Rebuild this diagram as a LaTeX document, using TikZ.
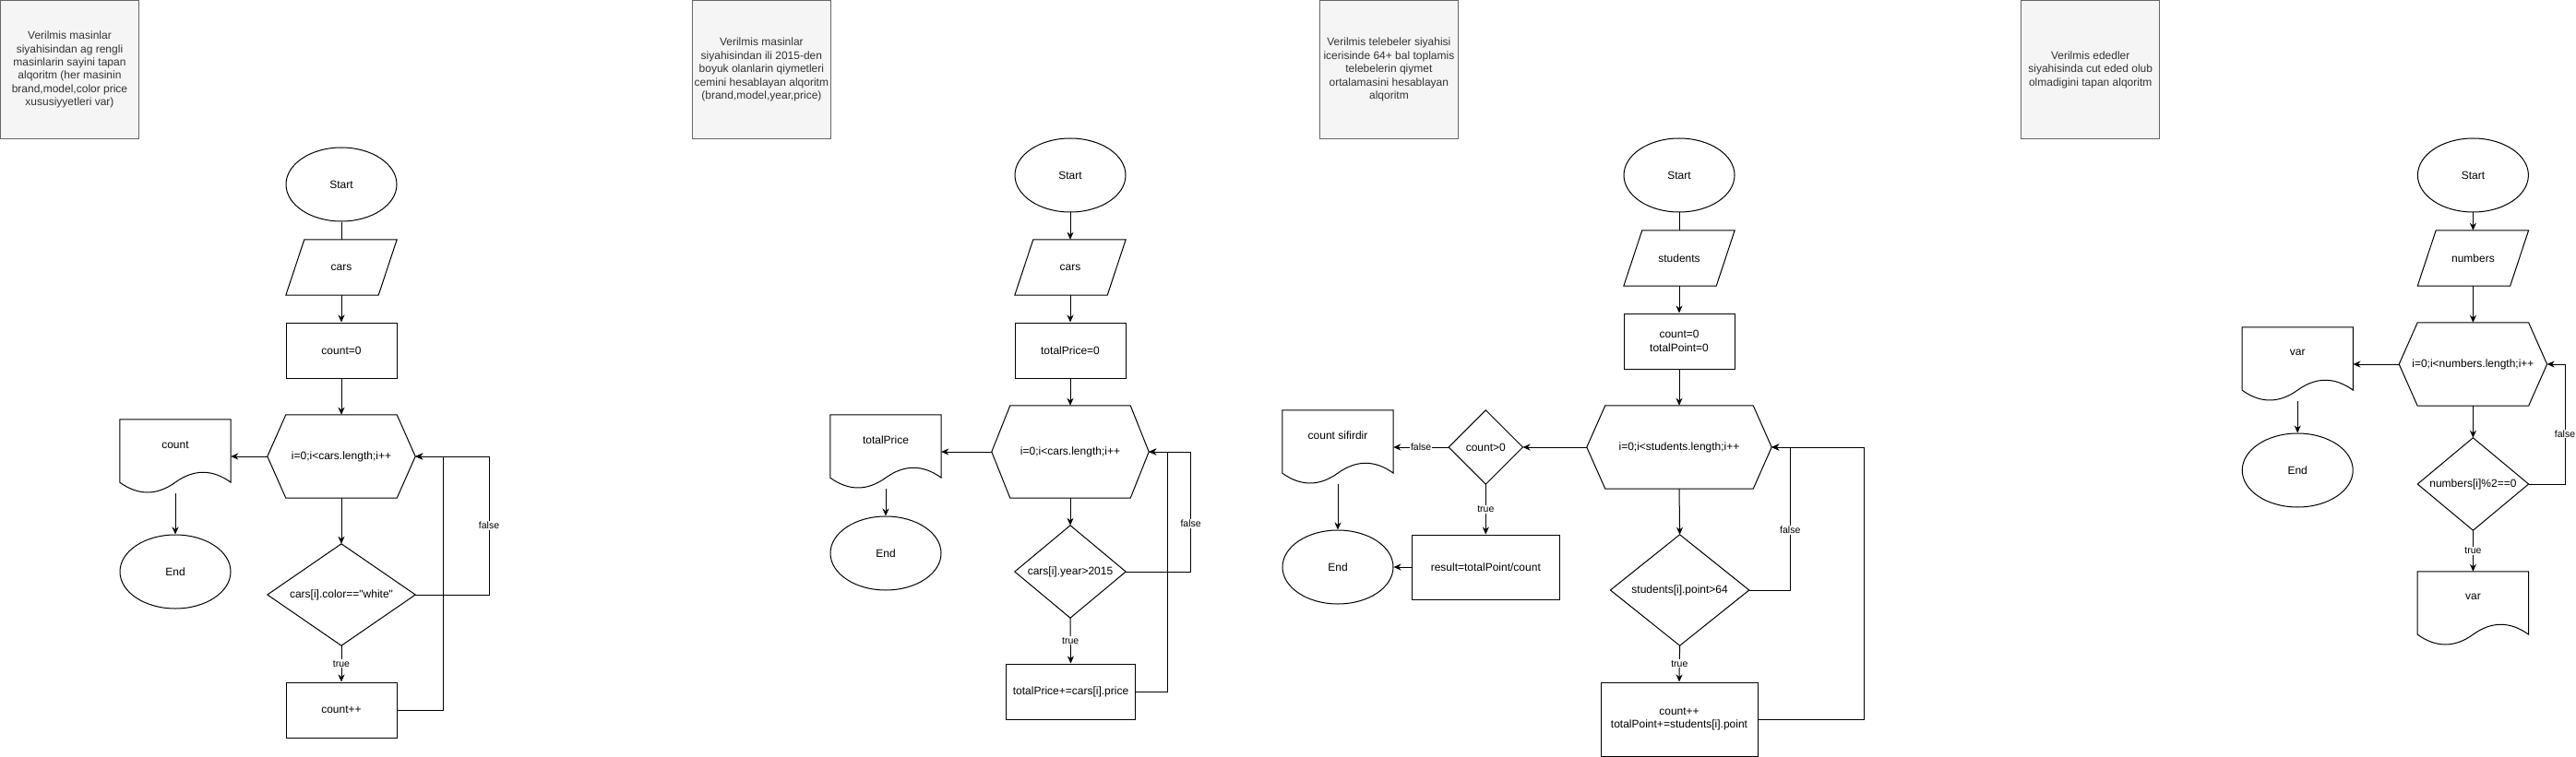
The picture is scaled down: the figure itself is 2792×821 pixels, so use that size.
\documentclass[tikz,border=0pt]{standalone}
\usepackage{fontspec}
\setmainfont{Liberation Sans}[Ligatures={TeXOff,CommonOff}]
\usetikzlibrary{shapes.geometric,arrows.meta,calc}
\definecolor{notefill}{HTML}{F5F5F5}
\definecolor{notestroke}{HTML}{666666}
\definecolor{notetext}{HTML}{333333}
\newcommand\parashape[2]{\draw[outl] ([xshift=#2]#1.north west) -- (#1.north east) -- ([xshift=-#2]#1.south east) -- (#1.south west) -- cycle;}
\newcommand\hexshape[2]{\draw[outl] (#1.west) -- ([xshift=#2]#1.north west) -- ([xshift=-#2]#1.north east) -- (#1.east) -- ([xshift=-#2]#1.south east) -- ([xshift=#2]#1.south west) -- cycle;}
\newcommand\diashape[1]{\draw[outl] (#1.north) -- (#1.east) -- (#1.south) -- (#1.west) -- cycle;}
\newcommand\docshape[1]{\draw[outl] let \p1=(#1.north west), \p2=(#1.south east), \n1={\x2-\x1}, \n2={\y1-\y2} in
  (\p1) -- (\x2,\y1) -- (\x2,{\y2+0.15*\n2})
  .. controls ({\x2-\n1/6},{\y2+0.33*\n2}) and ({\x1+2*\n1/3},{\y2+0.33*\n2}) .. ({\x1+\n1/2},{\y2+0.15*\n2})
  .. controls ({\x1+\n1/3},{\y2-0.03*\n2}) and ({\x1+\n1/6},{\y2-0.03*\n2}) .. (\x1,{\y2+0.15*\n2}) -- cycle;}
\begin{document}
\begin{tikzpicture}[x=1pt,y=-1pt,
  every node/.style={font=\fontsize{12}{14.4}\selectfont, inner sep=0pt, text=black},
  outl/.style={draw=black, line width=1pt, line join=miter},
  term/.style={ellipse, outl, minimum width=120, minimum height=80},
  proc/.style={rectangle, outl, minimum width=120, minimum height=60, align=center},
  bare/.style={rectangle, align=center},
  para/.style={bare, minimum width=120, minimum height=60},
  docn/.style={bare, minimum width=120, minimum height=80},
  note/.style={rectangle, draw=notestroke, fill=notefill, text=notetext, line width=1pt, minimum width=150, minimum height=150, align=center, font=\fontsize{12}{14.4}\selectfont},
  lbl/.style={fill=white, font=\fontsize{10.5}{11}\selectfont, inner sep=1pt},
  arr/.style={line width=1pt, -{Stealth[length=8pt,width=7pt,inset=2.5pt]}},
  con/.style={line width=1pt},
]
\useasboundingbox (0,0) rectangle (2792,821);

% ---------------- chart 1 ----------------
\node[note] (n1) at (75.5,75.5) {Verilmis masinlar\\siyahisindan ag rengli\\masinlarin sayini tapan\\alqoritm (her masinin\\brand,model,color price\\xususiyyetleri var)};
\node[term] (s1) at (370,200) {Start};
\node[para] (i1) at (370,290) {cars}; \parashape{i1}{20}
\node[proc] (a1) at (370,380) {count=0};
\node[bare, minimum width=160, minimum height=90] (h1) at (370,495) {i=0;i<cars.length;i++}; \hexshape{h1}{20}
\node[docn] (o1) at (190,495) {}; \docshape{o1}
\node (o1t) at ([yshift=12.5]o1.center) {count};
\node[term] (e1) at (190,620) {End};
\node[bare, minimum width=160, minimum height=110] (d1) at (370,645) {cars[i].color=="white"}; \diashape{d1}
\node[proc] (b1) at (370,770) {count++};
\coordinate (f1) at (530,495);
\coordinate (l1) at (480,495);
\draw[con] (s1.south) -- (i1.north);
\draw[arr] (i1.south) -- (a1.north);
\draw[arr] (a1.south) -- (h1.north);
\draw[arr] (h1.west) -- (o1.east);
\draw[arr] (o1.south) -- (e1.north);
\draw[arr] (h1.south) -- (d1.north);
\draw[arr] (d1.south) -- node[lbl] (t1) {true} (b1.north);
\draw[arr] (d1.east) -| node[lbl,pos=0.75] (lf1) {false} (f1) -- (h1.east);
\draw[arr] (b1.east) -| (l1) -- (h1.east);

% ---------------- chart 2 ----------------
\node[note] (n2) at (825.4,75.5) {Verilmis masinlar\\siyahisindan ili 2015-den\\boyuk olanlarin qiymetleri\\cemini hesablayan alqoritm\\(brand,model,year,price)};
\node[term] (s2) at (1160,190) {Start};
\node[para] (i2) at (1160,290) {cars}; \parashape{i2}{20}
\node[proc] (a2) at (1160,380) {totalPrice=0};
\node[bare, minimum width=170, minimum height=100] (h2) at (1160,490) {i=0;i<cars.length;i++}; \hexshape{h2}{20}
\node[docn] (o2) at (960,490) {}; \docshape{o2}
\node (o2t) at ([yshift=12.5]o2.center) {totalPrice};
\node[term] (e2) at (960,600) {End};
\node[bare, minimum width=120, minimum height=100] (d2) at (1160,620) {cars[i].year>2015}; \diashape{d2}
\node[proc, minimum width=140] (b2) at (1160.5,750) {totalPrice+=cars[i].price};
\coordinate (f2) at (1290.6,490);
\coordinate (l2) at (1265.6,490);
\draw[arr] (s2.south) -- (i2.north);
\draw[arr] (i2.south) -- (a2.north);
\draw[arr] (a2.south) -- (h2.north);
\draw[arr] (h2.west) -- (o2.east);
\draw[arr] (o2.south) -- (e2.north);
\draw[arr] (h2.south) -- (d2.north);
\draw[arr] (d2.south) -- node[lbl] (t2) {true} (b2.north);
\draw[arr] (d2.east) -| node[lbl,pos=0.70] (lf2) {false} (f2) -- (h2.east);
\draw[arr] (b2.east) -| (l2) -- (h2.east);

% ---------------- chart 3 ----------------
\node[note] (n3) at (1505.4,75.5) {Verilmis telebeler siyahisi\\icerisinde 64+ bal toplamis\\telebelerin qiymet\\ortalamasini hesablayan\\alqoritm};
\node[term] (s3) at (1820,190) {Start};
\node[para] (i3) at (1820,280) {students}; \parashape{i3}{20}
\node[proc] (a3) at (1820,370) {count=0\\totalPoint=0};
\node[bare, minimum width=200, minimum height=90] (h3) at (1820,485) {i=0;i<students.length;i++}; \hexshape{h3}{20}
\node[bare, minimum width=80, minimum height=80] (c3) at (1610.3,485) {count>0}; \diashape{c3}
\node[docn] (o3) at (1450,485) {}; \docshape{o3}
\node (o3t) at ([yshift=12.5]o3.center) {count sifirdir};
\node[term] (e3) at (1450,615) {End};
\node[proc, minimum width=160, minimum height=70] (r3) at (1610.3,615) {result=totalPoint/count};
\node[bare, minimum width=150, minimum height=120] (d3) at (1820.6,640) {students[i].point>64}; \diashape{d3}
\node[proc, minimum width=170, minimum height=80] (b3) at (1820,780) {count++\\totalPoint+=students[i].point};
\coordinate (f3) at (1940.3,485);
\coordinate (l3) at (2020.6,485);
\draw[con] (s3.south) -- (i3.north);
\draw[arr] (i3.south) -- (a3.north);
\draw[arr] (a3.south) -- (h3.north);
\draw[arr] (h3.west) -- (c3.east);
\draw[arr] (c3.west) -- node[lbl] (lf3b) {false} (o3.east);
\draw[arr] (c3.south) -- node[lbl] (t3b) {true} (r3.north);
\draw[arr] (r3.west) -- (e3.east);
\draw[arr] (o3.south) -- (e3.north);
\draw[arr] (h3.south) -- (d3.north);
\draw[arr] (d3.south) -- node[lbl] (t3) {true} (b3.north);
\draw[arr] (d3.east) -| node[lbl,pos=0.71] (lf3) {false} (f3) -- (h3.east);
\draw[arr] (b3.east) -| (l3) -- (h3.east);

% ---------------- chart 4 ----------------
\node[note] (n4) at (2265.7,75.5) {Verilmis ededler\\siyahisinda cut eded olub\\olmadigini tapan alqoritm};
\node[term] (s4) at (2680.4,190) {Start};
\node[para] (i4) at (2680.4,280) {numbers}; \parashape{i4}{20}
\node[bare, minimum width=160, minimum height=90] (h4) at (2680.4,395) {i=0;i<numbers.length;i++}; \hexshape{h4}{20}
\node[docn] (o4) at (2490.2,395) {}; \docshape{o4}
\node (o4t) at ([yshift=12.5]o4.center) {var};
\node[term] (e4) at (2490.2,510) {End};
\node[bare, minimum width=120, minimum height=100] (d4) at (2680.4,525) {numbers[i]\%2==0}; \diashape{d4}
\node[docn] (o5) at (2680.4,660) {}; \docshape{o5}
\node (o5t) at ([yshift=12.5]o5.center) {var};
\coordinate (f4) at (2780,395);
\draw[arr] (s4.south) -- (i4.north);
\draw[arr] (i4.south) -- (h4.north);
\draw[arr] (h4.west) -- (o4.east);
\draw[arr] (o4.south) -- (e4.north);
\draw[arr] (h4.south) -- (d4.north);
\draw[arr] (d4.south) -- node[lbl] (t4) {true} (o5.north);
\draw[arr] (d4.east) -| node[lbl,pos=0.71] (lf4) {false} (f4) -- (h4.east);
\end{tikzpicture}
\end{document}
